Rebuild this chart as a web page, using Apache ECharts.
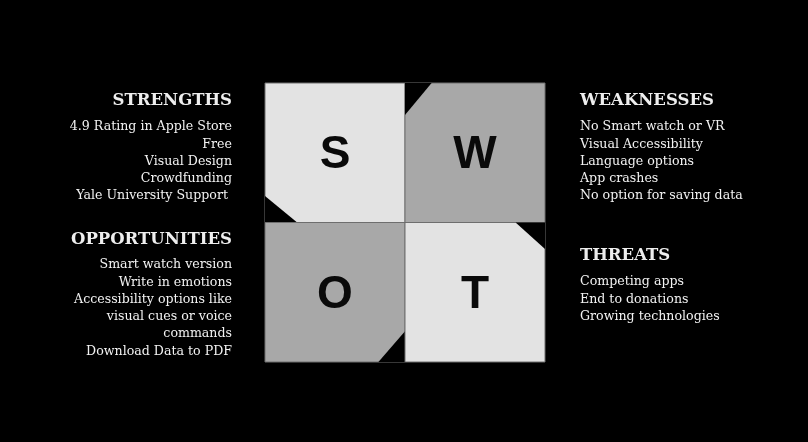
<!DOCTYPE html>
<html>
<head>
<meta charset="utf-8">
<script src="https://cdn.jsdelivr.net/npm/echarts@6/dist/echarts.min.js"></script>
<style>
  html, body { margin: 0; padding: 0; background: #000; }
  #chart { width: 808px; height: 442px; }
</style>
</head>
<body>
<div id="chart"></div>
<script>
// quadrant cells: [col, row, letter, shade, corner]
var letters = ['S', 'W', 'O', 'T'];
var cellCols = [0, 1, 0, 1];
var cellRows = [1, 1, 0, 0];
var shades = ['#e3e3e3', '#a8a8a8', '#a8a8a8', '#e3e3e3'];
var corners = ['bl', 'tl', 'br', 'tr'];

var strengths = ['4.9 Rating in Apple Store', 'Free', 'Visual Design', 'Crowdfunding', 'Yale University Support '];
var weaknesses = ['No Smart watch or VR', 'Visual Accessibility', 'Language options', 'App crashes', 'No option for saving data'];
var opportunities = ['Smart watch version', 'Write in emotions', 'Accessibility options like', 'visual cues or voice', 'commands', 'Download Data to PDF'];
var threats = ['Competing apps', 'End to donations', 'Growing technologies'];

var chart = echarts.init(document.getElementById('chart'));

var cells = letters.map(function (l, i) {
    return [cellCols[i], cellRows[i], l, shades[i], corners[i]];
});

function renderCell(params, api) {
    var c = api.value(0), r = api.value(1);
    var p0 = api.coord([c, r + 1]);
    var p1 = api.coord([c + 1, r]);
    var x = p0[0], y = p0[1], w = p1[0] - p0[0], h = p1[1] - p0[1];
    var corner = cells[params.dataIndex][4];
    var tri;
    if (corner === 'bl') tri = [[x, y + h * 0.81], [x, y + h], [x + w * 0.23, y + h]];
    if (corner === 'tl') tri = [[x, y], [x + w * 0.19, y], [x, y + h * 0.23]];
    if (corner === 'br') tri = [[x + w, y + h * 0.78], [x + w, y + h], [x + w * 0.81, y + h]];
    if (corner === 'tr') tri = [[x + w * 0.79, y], [x + w, y], [x + w, y + h * 0.19]];
    return {
        type: 'group',
        children: [
            { type: 'rect', shape: { x: x, y: y, width: w, height: h },
              style: { fill: cells[params.dataIndex][3], stroke: '#6e6e6e', lineWidth: 1 } },
            { type: 'polygon', shape: { points: tri }, style: { fill: '#000' } },
            { type: 'text', x: x + w / 2, y: y + h / 2 + 3,
              style: { text: cells[params.dataIndex][2], fill: '#0a0a0a',
                       font: 'bold 46px "Liberation Sans", Arial, sans-serif',
                       align: 'center', verticalAlign: 'middle' } }
        ]
    };
}

function textBlock(title, lines, x, y, align, titleGap) {
    var out = [{
        type: 'text', x: x, y: y,
        style: { text: title, fill: '#eeeeee', font: 'bold 16.5px "DejaVu Serif", serif',
                 align: align, verticalAlign: 'middle' }
    }];
    lines.forEach(function (t, i) {
        out.push({
            type: 'text', x: x, y: y + titleGap + i * 17.3,
            style: { text: t, fill: '#f2f2f2', font: '12.6px "DejaVu Serif", serif',
                     align: align, verticalAlign: 'middle' }
        });
    });
    return out;
}

var option = {
    backgroundColor: '#000',
    animation: false,
    grid: { left: 265, top: 83, width: 280, height: 279 },
    xAxis: { type: 'value', min: 0, max: 2, show: false },
    yAxis: { type: 'value', min: 0, max: 2, show: false },
    series: [{
        type: 'custom',
        renderItem: renderCell,
        data: cells.map(function (d) { return [d[0], d[1]]; })
    }],
    graphic: [].concat(
        textBlock('STRENGTHS', strengths, 232, 101, 'right', 26),
        textBlock('OPPORTUNITIES', opportunities, 232, 240, 'right', 25),
        textBlock('WEAKNESSES', weaknesses, 580, 101, 'left', 26),
        textBlock('THREATS', threats, 580, 256, 'left', 26)
    )
};
chart.setOption(option);
</script>
</body>
</html>
